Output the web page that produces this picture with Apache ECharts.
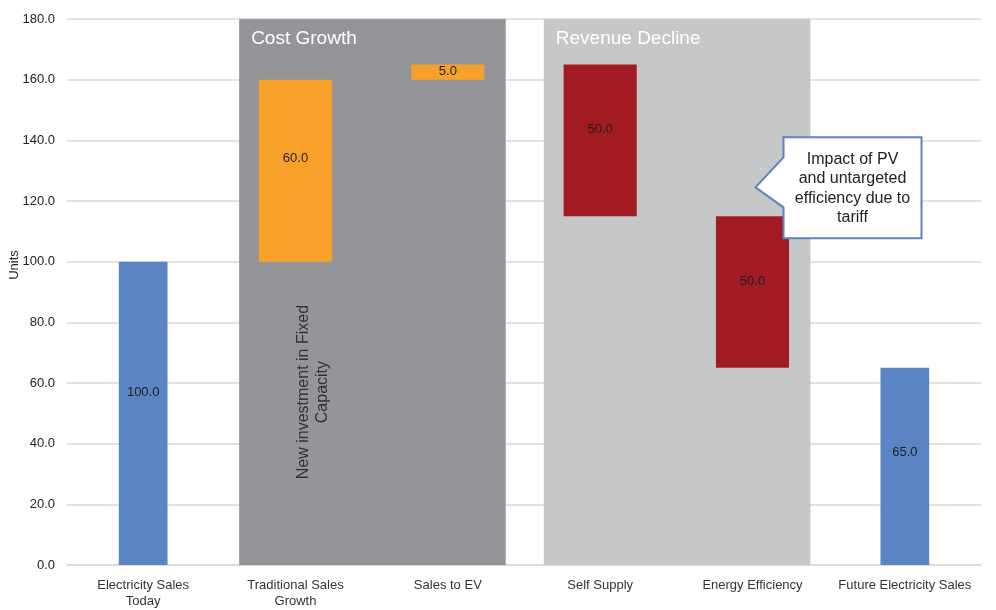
<!DOCTYPE html>
<html>
<head>
<meta charset="utf-8">
<script src="https://cdn.jsdelivr.net/npm/echarts@6/dist/echarts.min.js"></script>
<style>
  html, body { margin: 0; padding: 0; background: #fff; }
  #chart { width: 996px; height: 610px; }
</style>
</head>
<body>
<div id="chart"></div>
<script>
// Waterfall of electricity sales: starting total, cost growth steps, revenue decline steps, final total
const categories = [
  'Electricity Sales\nToday',
  'Traditional Sales\nGrowth',
  'Sales to EV',
  'Self Supply',
  'Energy Efficiency',
  'Future Electricity Sales'
];
const changes = [100, 60, 5, -50, -50, 65];
const stepKinds = ['total', 'increase', 'increase', 'decrease', 'decrease', 'total'];
const yMin = 0;
const yMax = 180;
const yStep = 20;
const groupNames = ['Cost Growth', 'Revenue Decline'];
const groupFirst = [1, 3];
const groupLast = [2, 4];
const investmentNote = 'New investment in Fixed\nCapacity';
const calloutText = 'Impact of PV\nand untargeted\nefficiency due to\ntariff';

const FONT = "'Liberation Sans', Arial, sans-serif";
const kindColor = { total: '#5b84c4', increase: '#f7a12b', decrease: '#a31b22' };
const kindWidth = { total: 0.32, increase: 0.48, decrease: 0.48 };
const groupColor = ['#939598', '#c6c7c9'];

// floating segments: [category, low, high, amount]
let running = 0;
const steps = changes.map(function (v, i) {
  let low, high;
  if (stepKinds[i] === 'total') {
    low = 0; high = v; running = v;
  } else {
    const next = running + v;
    low = Math.min(running, next);
    high = Math.max(running, next);
    running = next;
  }
  return [i, low, high, Math.abs(v)];
});

const groups = groupNames.map(function (n, i) { return [groupFirst[i], groupLast[i]]; });

const chart = echarts.init(document.getElementById('chart'), null, { renderer: 'canvas' });

chart.setOption({
  animation: false,
  backgroundColor: '#fff',
  textStyle: { fontFamily: FONT },
  grid: { left: 67, right: 15, top: 19, bottom: 45, containLabel: false, outerBoundsMode: 'none' },
  xAxis: {
    type: 'category',
    data: categories,
    axisLine: { lineStyle: { color: '#d9d9d9', width: 1.5 } },
    axisTick: { show: false },
    axisLabel: { interval: 0, margin: 12, color: '#333', fontSize: 13, lineHeight: 16, fontFamily: FONT },
    splitLine: { show: false }
  },
  yAxis: {
    type: 'value',
    min: yMin, max: yMax, interval: yStep,
    name: 'Units',
    nameLocation: 'middle',
    nameRotate: 90,
    nameGap: 46,
    nameMoveOverlap: false,
    nameTextStyle: { color: '#222', fontSize: 13, fontFamily: FONT, padding: [0, 0, 0, 54] },
    axisLine: { show: false },
    axisTick: { show: false },
    axisLabel: {
      margin: 12, color: '#222', fontSize: 13, fontFamily: FONT,
      formatter: function (v) { return v.toFixed(1); }
    },
    splitLine: { lineStyle: { color: '#d9d9d9', width: 1.5 } }
  },
  series: [
    {
      // shaded category groups with their titles
      type: 'custom',
      name: 'groups',
      silent: true,
      z: 1,
      data: groups,
      encode: { x: [0, 1] },
      renderItem: function (params, api) {
        const top = api.coord([api.value(0), yMax]);
        const bottom = api.coord([api.value(1), yMin]);
        const band = api.size([1, 0])[0];
        const x0 = top[0] - band * 0.37;
        const x1 = bottom[0] + band * 0.38;
        return {
          type: 'group',
          children: [
            {
              type: 'rect',
              shape: { x: x0, y: top[1], width: x1 - x0, height: bottom[1] - top[1] },
              style: { fill: groupColor[params.dataIndex] }
            },
            {
              type: 'text',
              x: x0 + 12, y: top[1] + 10,
              style: { text: groupNames[params.dataIndex], fill: '#fff', fontSize: 19, fontFamily: FONT }
            }
          ]
        };
      }
    },
    {
      // waterfall segments
      type: 'custom',
      name: 'steps',
      z: 3,
      data: steps,
      encode: { x: 0, y: [1, 2] },
      renderItem: function (params, api) {
        const i = api.value(0);
        const lo = api.coord([i, api.value(1)]);
        const hi = api.coord([i, api.value(2)]);
        const band = api.size([1, 0])[0];
        const kind = stepKinds[params.dataIndex];
        const w = band * kindWidth[kind];
        const h = lo[1] - hi[1];
        return {
          type: 'rect',
          shape: { x: lo[0] - w / 2, y: hi[1], width: w, height: h },
          style: { fill: kindColor[kind] },
          textContent: {
            style: { text: api.value(3).toFixed(1), fill: '#222', fontSize: 13, fontFamily: FONT }
          },
          textConfig: { position: 'inside', offset: [0, -0.07 * h] }
        };
      }
    },
    {
      // notes: rotated investment note and the tariff callout
      type: 'custom',
      name: 'notes',
      silent: true,
      z: 4,
      data: [[1, 4]],
      encode: { x: [0, 1] },
      renderItem: function (params, api) {
        const notePt = api.coord([api.value(0), 57]);
        const anchor = api.coord([api.value(1), 124.5]);
        const tx = anchor[0] + 3;
        const ty = anchor[1];
        const bx0 = tx + 28, bx1 = tx + 166, by0 = ty - 50, by1 = ty + 51;
        return {
          type: 'group',
          children: [
            {
              type: 'text',
              x: notePt[0] + 18, y: notePt[1],
              rotation: Math.PI / 2,
              style: {
                text: investmentNote, fill: '#333', fontSize: 16, fontFamily: FONT,
                align: 'center', verticalAlign: 'middle', lineHeight: 19
              }
            },
            {
              type: 'polygon',
              shape: {
                points: [[bx0, by0], [bx1, by0], [bx1, by1], [bx0, by1],
                         [bx0, ty + 20], [tx, ty], [bx0, ty - 30]]
              },
              style: { fill: '#fff', stroke: '#5b84c4', lineWidth: 2 }
            },
            {
              type: 'text',
              x: (bx0 + bx1) / 2, y: ty + 1,
              style: {
                text: calloutText, fill: '#222', fontSize: 16, fontFamily: FONT,
                align: 'center', verticalAlign: 'middle', lineHeight: 19.5
              }
            }
          ]
        };
      }
    }
  ]
});
</script>
</body>
</html>
